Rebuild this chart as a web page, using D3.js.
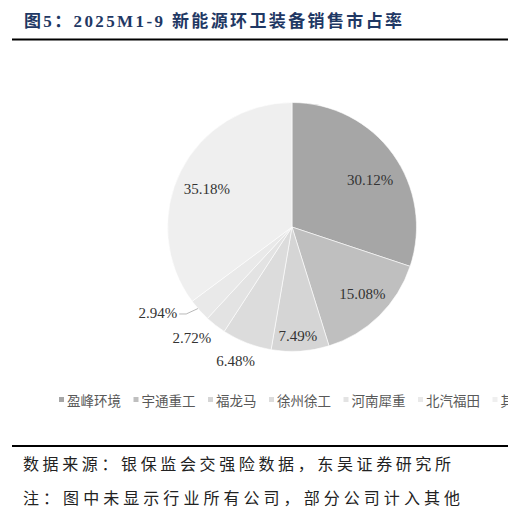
<!DOCTYPE html>
<html><head><meta charset="utf-8">
<script src="https://cdn.jsdelivr.net/npm/d3@7/dist/d3.min.js"></script>
<style>body{margin:0;background:#fff}svg{display:block}</style>
</head><body>
<script>
const companies = ["盈峰环境","宇通重工","福龙马","徐州徐工","河南犀重","北汽福田","其他"];
const shares = [30.12,15.08,7.49,6.48,2.72,2.94,35.18];
const colors = ["#a6a6a6","#bfbfbf","#d5d5d5","#dcdcdc","#e3e3e3","#e9e9e9","#efefef"];
const titleText = "图5：2025M1-9 新能源环卫装备销售市占率";
const sourceLines = ["数据来源：银保监会交强险数据，东吴证券研究所","注：图中未显示行业所有公司，部分公司计入其他"];

// layout (label radius factor, angular nudge in degrees)
const labelR = [0.73,0.78,0.88,1.17,1.2,1.29,0.75];
const labelNudge = [5,-2,0.8,1.5,4.2,9.5,-2.5];

const W=508,H=517, cx=292, cy=227, R=124.5;
const svg=d3.select("body").append("svg").attr("width",W).attr("height",H);

svg.append("text").attr("x",24).attr("y",21).attr("dominant-baseline","central")
  .attr("font-family","'Liberation Serif','Noto Sans CJK SC'").attr("font-weight","bold")
  .attr("font-size",17).attr("fill","#1f3864").attr("textLength",378).attr("lengthAdjust","spacing")
  .text(titleText);
svg.append("line").attr("x1",12).attr("x2",W).attr("y1",39.5).attr("y2",39.5).attr("stroke","#000").attr("stroke-width",2);
svg.append("line").attr("x1",12).attr("x2",W).attr("y1",446).attr("y2",446).attr("stroke","#000").attr("stroke-width",2);

const srcLen=[428,437];
sourceLines.forEach((t,i)=>{
  svg.append("text").attr("x",23).attr("y",463+i*33.5).attr("dominant-baseline","central")
    .attr("font-family","'Noto Sans CJK SC'").attr("font-size",16).attr("fill","#222")
    .attr("textLength",srcLen[i]).attr("lengthAdjust","spacing").text(t);
});

const data = companies.map((c,i)=>({name:c,value:shares[i]}));
const pie=d3.pie().sort(null).value(d=>d.value);
const arcs=pie(data);
const color=d3.scaleOrdinal().domain(companies).range(colors);
const arc=d3.arc().innerRadius(0).outerRadius(R);
const g=svg.append("g").attr("transform",`translate(${cx},${cy})`);
g.selectAll("path").data(arcs).join("path").attr("d",arc)
  .attr("fill",d=>color(d.data.name)).attr("stroke","#fff").attr("stroke-width",0.6);

const polar=(a,r)=>[r*Math.sin(a),-r*Math.cos(a)];
arcs.forEach((d,i)=>{
  const mid=(d.startAngle+d.endAngle)/2;
  const a=mid+labelNudge[i]*Math.PI/180;
  const [x,y]=polar(a,R*labelR[i]);
  const txt=d3.format(".2f")(d.data.value)+"%";
  if(i===5){
    const p0=polar(mid+1*Math.PI/180,R*1.0);
    const p1=polar(mid+2.5*Math.PI/180,R*1.1);
    const p2=[p1[0]-7,p1[1]];
    g.append("polyline").attr("points",[p0,p1,p2].map(p=>p.join(",")).join(" "))
      .attr("fill","none").attr("stroke","#a6a6a6").attr("stroke-width",0.8);
    g.append("text").attr("x",p2[0]-2).attr("y",p2[1]-1).attr("text-anchor","end").attr("dominant-baseline","central")
      .attr("font-family","'Liberation Serif'").attr("font-size",15).attr("fill","#333").text(txt);
  } else {
    g.append("text").attr("x",x).attr("y",y).attr("text-anchor","middle").attr("dominant-baseline","central")
      .attr("font-family","'Liberation Serif'").attr("font-size",15).attr("fill","#333").text(txt);
  }
});

// legend
const lf=13.5, lg=svg.append("g");
let lx=59;
companies.forEach((c,i)=>{
  lg.append("rect").attr("x",lx).attr("y",397).attr("width",5).attr("height",5).attr("fill",color(c));
  lg.append("text").attr("x",lx+8).attr("y",399.5).attr("dominant-baseline","central")
    .attr("font-family","'Noto Sans CJK SC'").attr("font-size",lf).attr("fill","#595959").text(c);
  lx+=8+c.length*lf+12.5;
});
</script>
</body></html>
